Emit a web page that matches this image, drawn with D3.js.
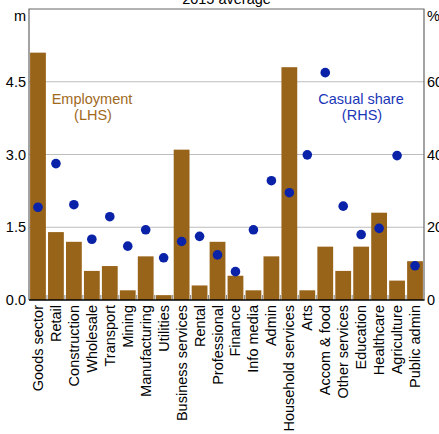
<!DOCTYPE html>
<html><head><meta charset="utf-8">
<script src="https://cdn.jsdelivr.net/npm/d3@7/dist/d3.min.js"></script>
<style>body{margin:0;background:#fff}svg{display:block;font-family:"Liberation Sans",Arial,sans-serif}</style>
</head><body>
<script>
const categories = ["Goods sector","Retail","Construction","Wholesale","Transport","Mining","Manufacturing","Utilities","Business services","Rental","Professional","Finance","Info media","Admin","Household services","Arts","Accom & food","Other services","Education","Healthcare","Agriculture","Public admin"];
const employment = [5.1,1.4,1.2,0.6,0.7,0.2,0.9,0.1,3.1,0.3,1.2,0.5,0.2,0.9,4.8,0.2,1.1,0.6,1.1,1.8,0.4,0.8];
const casualShare = [25.5,37.5,26.2,16.7,22.9,14.8,19.3,11.6,16.1,17.5,12.4,7.8,19.3,32.8,29.5,39.9,62.5,25.8,18.0,19.7,39.7,9.4];
const leftTicks = [0,1.5,3,4.5];
const rightTicks = [0,20,40,60];

const W=439,H=434, L=29, R=424, T=9, B=300;
const BAR="#98641a", DOT="#0a22a8";
const svg=d3.select("body").append("svg").attr("width",W).attr("height",H);
const x=d3.scaleBand().domain(categories).range([L,R]).paddingInner(0.12).paddingOuter(0.06);
const yL=d3.scaleLinear().domain([0,6]).range([B,T]);
const yR=d3.scaleLinear().domain([0,80]).range([B,T]);
const fs="14.5px";

// gridlines
svg.append("g").selectAll("line").data(leftTicks.filter(d=>d>0)).join("line")
  .attr("x1",L).attr("x2",R).attr("y1",d=>yL(d)).attr("y2",d=>yL(d))
  .attr("stroke","#bdbdbd").attr("stroke-width",1);

// bars
svg.append("g").selectAll("rect").data(categories).join("rect")
  .attr("x",d=>x(d)).attr("width",x.bandwidth())
  .attr("y",(d,i)=>yL(employment[i])).attr("height",(d,i)=>B-yL(employment[i]))
  .attr("fill",BAR);

// x ticks between bars
const step=x.step();
svg.append("g").selectAll("line").data(categories.slice(1)).join("line")
  .attr("x1",d=>x(d)-step*0.06).attr("x2",d=>x(d)-step*0.06)
  .attr("y1",B).attr("y2",B-5).attr("stroke","#888").attr("stroke-width",1);

// dots
svg.append("g").selectAll("circle").data(categories).join("circle")
  .attr("cx",d=>x(d)+x.bandwidth()/2).attr("cy",(d,i)=>yR(casualShare[i]))
  .attr("r",4.8).attr("fill",DOT);

// frame
svg.append("path").attr("d",`M${L},${B}V${T}H${R}V${B}`).attr("fill","none").attr("stroke","#666").attr("stroke-width",1.2);
svg.append("line").attr("x1",L).attr("x2",R+0.5).attr("y1",B).attr("y2",B).attr("stroke","#000").attr("stroke-width",1.5);

// left axis labels
const axL=d3.axisLeft(yL).tickValues(leftTicks).tickFormat(d3.format(".1f")).tickSize(0).tickPadding(3);
const gL=svg.append("g").attr("transform",`translate(${L},0)`).call(axL);
gL.select(".domain").remove();
gL.selectAll("text").attr("font-size",fs).attr("fill","#000").attr("font-family",null);
const axR=d3.axisRight(yR).tickValues(rightTicks).tickFormat(d3.format("d")).tickSize(0).tickPadding(3);
const gR=svg.append("g").attr("transform",`translate(${R},0)`).call(axR);
gR.select(".domain").remove();
gR.selectAll("text").attr("font-size",fs).attr("fill","#000").attr("font-family",null);

svg.append("text").attr("x",L-3).attr("y",yL(6)+12).attr("text-anchor","end").attr("font-size",fs).text("m");
svg.append("text").attr("x",R+3).attr("y",yL(6)+12).attr("text-anchor","start").attr("font-size",fs).text("%");

// title
svg.append("text").attr("x",(L+R)/2).attr("y",4).attr("text-anchor","middle").attr("font-size",fs).text("2015 average");

// x labels
svg.append("g").selectAll("text").data(categories).join("text")
  .attr("transform",d=>`translate(${x(d)+x.bandwidth()/2},${B+5}) rotate(-90)`)
  .attr("text-anchor","end").attr("dominant-baseline","central")
  .attr("font-size",fs).text(d=>d);

// legend labels
svg.append("text").attr("x",92).attr("y",104).attr("text-anchor","middle").attr("font-size",fs).attr("fill","#a06a1c").text("Employment");
svg.append("text").attr("x",93).attr("y",120).attr("text-anchor","middle").attr("font-size",fs).attr("fill","#a06a1c").text("(LHS)");
svg.append("text").attr("x",361).attr("y",104).attr("text-anchor","middle").attr("font-size",fs).attr("fill","#1a36b8").text("Casual share");
svg.append("text").attr("x",362).attr("y",120).attr("text-anchor","middle").attr("font-size",fs).attr("fill","#1a36b8").text("(RHS)");
</script>
</body></html>
